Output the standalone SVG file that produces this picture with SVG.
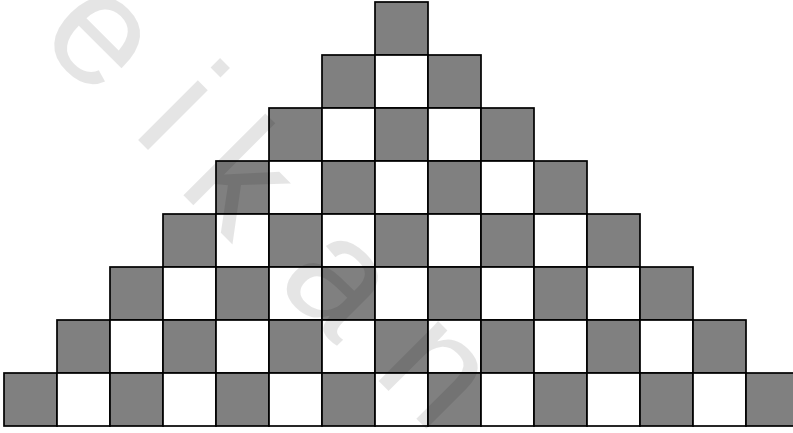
<svg xmlns="http://www.w3.org/2000/svg" width="793" height="433" viewBox="0 0 793 433">
<style>
.g{fill:#808080;stroke:#000;stroke-width:1.7}
.w{fill:#fff;stroke:#000;stroke-width:1.7}
.wm{font-family:"Liberation Sans",Arial,sans-serif;font-size:160px;fill:#000;fill-opacity:0.1;text-anchor:middle}
</style>
<rect width="793" height="433" fill="#fff"/>
<g id="row0">
<rect class="g" x="375" y="2" width="53" height="53"/>
</g>
<g id="row1">
<rect class="g" x="322" y="55" width="53" height="53"/><rect class="w" x="375" y="55" width="53" height="53"/><rect class="g" x="428" y="55" width="53" height="53"/>
</g>
<g id="row2">
<rect class="g" x="269" y="108" width="53" height="53"/><rect class="w" x="322" y="108" width="53" height="53"/><rect class="g" x="375" y="108" width="53" height="53"/><rect class="w" x="428" y="108" width="53" height="53"/><rect class="g" x="481" y="108" width="53" height="53"/>
</g>
<g id="row3">
<rect class="g" x="216" y="161" width="53" height="53"/><rect class="w" x="269" y="161" width="53" height="53"/><rect class="g" x="322" y="161" width="53" height="53"/><rect class="w" x="375" y="161" width="53" height="53"/><rect class="g" x="428" y="161" width="53" height="53"/><rect class="w" x="481" y="161" width="53" height="53"/><rect class="g" x="534" y="161" width="53" height="53"/>
</g>
<g id="row4">
<rect class="g" x="163" y="214" width="53" height="53"/><rect class="w" x="216" y="214" width="53" height="53"/><rect class="g" x="269" y="214" width="53" height="53"/><rect class="w" x="322" y="214" width="53" height="53"/><rect class="g" x="375" y="214" width="53" height="53"/><rect class="w" x="428" y="214" width="53" height="53"/><rect class="g" x="481" y="214" width="53" height="53"/><rect class="w" x="534" y="214" width="53" height="53"/><rect class="g" x="587" y="214" width="53" height="53"/>
</g>
<g id="row5">
<rect class="g" x="110" y="267" width="53" height="53"/><rect class="w" x="163" y="267" width="53" height="53"/><rect class="g" x="216" y="267" width="53" height="53"/><rect class="w" x="269" y="267" width="53" height="53"/><rect class="g" x="322" y="267" width="53" height="53"/><rect class="w" x="375" y="267" width="53" height="53"/><rect class="g" x="428" y="267" width="53" height="53"/><rect class="w" x="481" y="267" width="53" height="53"/><rect class="g" x="534" y="267" width="53" height="53"/><rect class="w" x="587" y="267" width="53" height="53"/><rect class="g" x="640" y="267" width="53" height="53"/>
</g>
<g id="row6">
<rect class="g" x="57" y="320" width="53" height="53"/><rect class="w" x="110" y="320" width="53" height="53"/><rect class="g" x="163" y="320" width="53" height="53"/><rect class="w" x="216" y="320" width="53" height="53"/><rect class="g" x="269" y="320" width="53" height="53"/><rect class="w" x="322" y="320" width="53" height="53"/><rect class="g" x="375" y="320" width="53" height="53"/><rect class="w" x="428" y="320" width="53" height="53"/><rect class="g" x="481" y="320" width="53" height="53"/><rect class="w" x="534" y="320" width="53" height="53"/><rect class="g" x="587" y="320" width="53" height="53"/><rect class="w" x="640" y="320" width="53" height="53"/><rect class="g" x="693" y="320" width="53" height="53"/>
</g>
<g id="row7">
<rect class="g" x="4" y="373" width="53" height="53"/><rect class="w" x="57" y="373" width="53" height="53"/><rect class="g" x="110" y="373" width="53" height="53"/><rect class="w" x="163" y="373" width="53" height="53"/><rect class="g" x="216" y="373" width="53" height="53"/><rect class="w" x="269" y="373" width="53" height="53"/><rect class="g" x="322" y="373" width="53" height="53"/><rect class="w" x="375" y="373" width="53" height="53"/><rect class="g" x="428" y="373" width="53" height="53"/><rect class="w" x="481" y="373" width="53" height="53"/><rect class="g" x="534" y="373" width="53" height="53"/><rect class="w" x="587" y="373" width="53" height="53"/><rect class="g" x="640" y="373" width="53" height="53"/><rect class="w" x="693" y="373" width="53" height="53"/><rect class="g" x="746" y="373" width="53" height="53"/>
</g>
<g id="watermark">
<text class="wm" transform="translate(97,40) rotate(45)" y="42">e</text>
<text class="wm" transform="translate(184,104) rotate(45)" y="58">i</text>
<text class="wm" transform="translate(245,175) rotate(45)" y="58">k</text>
<text class="wm" transform="translate(335,285) rotate(45)" y="42">a</text>
<text class="wm" transform="translate(432,375) rotate(45)" y="42">n</text>
</g>
</svg>
